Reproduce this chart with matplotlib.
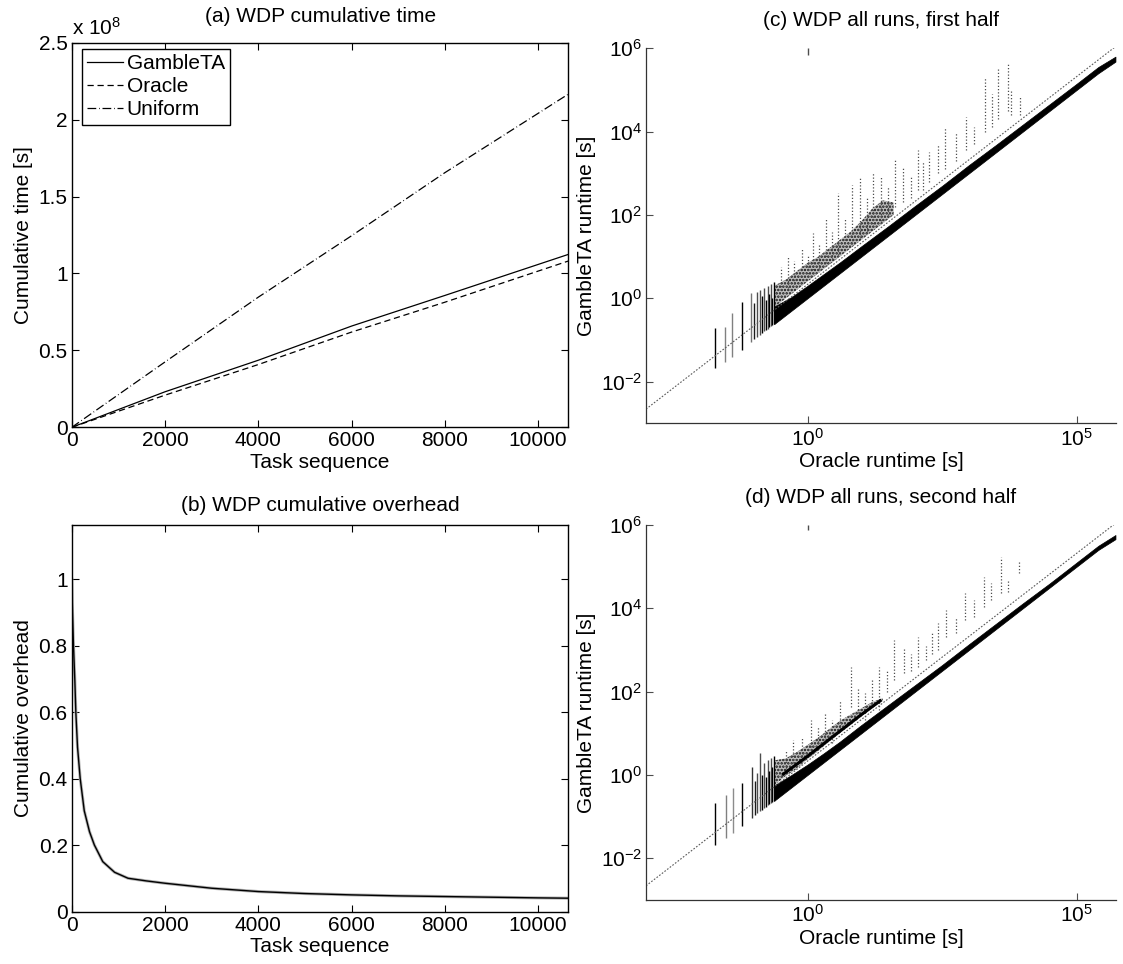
import numpy as np
import matplotlib
matplotlib.use('Agg')
import matplotlib.pyplot as plt
from matplotlib.ticker import FixedLocator, FuncFormatter, NullLocator

plt.rcParams['font.family'] = ['Liberation Sans', 'DejaVu Sans']
plt.rcParams['mathtext.fontset'] = 'custom'
plt.rcParams['mathtext.rm'] = 'Liberation Sans'
plt.rcParams['mathtext.it'] = 'Liberation Sans:italic'
plt.rcParams['mathtext.default'] = 'regular'
plt.rcParams['hatch.linewidth'] = 1.2
FS = 15

# ---------------- (a) cumulative time ----------------
task_a = [0, 2000, 4000, 6000, 8000, 10650]
gamble_a = [0, 0.231e8, 0.436e8, 0.658e8, 0.857e8, 1.124e8]
oracle_a = [0, 0.209e8, 0.408e8, 0.619e8, 0.813e8, 1.081e8]
uniform_a = [0, 0.425e8, 0.846e8, 1.245e8, 1.655e8, 2.166e8]

# ---------------- (b) cumulative overhead ----------------
task_b = [0, 15, 36, 65, 87, 123, 180, 267, 380, 484, 664, 917, 1206, 1600,
          2000, 3000, 4000, 5000, 6000, 7000, 8000, 9000, 10000, 10650]
overhead_b = [1.0, 0.9, 0.8, 0.695, 0.598, 0.494, 0.40, 0.303, 0.24, 0.20,
              0.15, 0.118, 0.10, 0.092, 0.085, 0.07, 0.06, 0.054, 0.05,
              0.047, 0.045, 0.043, 0.041, 0.040]

# ---------------- (c) first half (log10 values) ----------------
c_band_logx = [-0.62, -0.3, 0.0, 0.3, 0.6, 1.0, 1.5, 2.0, 2.5, 3.0, 3.5, 4.0, 4.5, 5.0, 5.4, 5.72]
c_band_loglo = [-0.62, -0.3, 0.0, 0.3, 0.6, 1.0, 1.5, 2.0, 2.5, 3.0, 3.5, 4.0, 4.5, 5.0, 5.4, 5.68]
c_band_loghi = [-0.2, 0.03, 0.3, 0.58, 0.86, 1.25, 1.73, 2.22, 2.7, 3.2, 3.68, 4.17, 4.66, 5.15, 5.55, 5.8]
c_clu_logx = [-0.62, -0.4, -0.2, 0.0, 0.2, 0.4, 0.6, 0.8, 1.0, 1.2, 1.4, 1.6]
c_clu_loglo = [-0.22, 0.0, 0.2, 0.4, 0.6, 0.8, 1.0, 1.2, 1.4, 1.6, 1.8, 2.0]
c_clu_loghi = [0.3, 0.45, 0.65, 0.85, 1.0, 1.2, 1.4, 1.6, 1.85, 2.15, 2.35, 2.3]
c_col_logx = [-1.71, -1.53, -1.40, -1.22, -1.05, -0.985, -0.93, -0.88, -0.84, -0.80,
              -0.77, -0.74, -0.71, -0.68, -0.66, -0.63, 0.0]
c_col_loglo = [-1.68, -1.52, -1.40, -1.24, -1.04, -0.97, -0.92, -0.87, -0.83, -0.79,
               -0.76, -0.73, -0.70, -0.67, -0.65, -0.62, 5.85]
c_col_loghi = [-0.72, -0.68, -0.35, -0.08, 0.12, -0.12, 0.15, 0.20, 0.05, 0.25,
               -0.05, 0.30, 0.10, 0.35, 0.00, 0.40, 6.0]
c_col_shade = [0.0, 0.5, 0.5, 0.0, 0.45, 0.1, 0.3, 0.3, 0.0, 0.3,
               0.0, 0.3, 0.0, 0.3, 0.0, 0.0, 0.3]
c_out_logx = [-0.50, -0.36, -0.25, -0.11, 0.00, 0.10, 0.22, 0.35, 0.46, 0.57, 0.70,
              0.82, 0.97, 1.10, 1.22, 1.37, 1.50, 1.62, 1.78, 1.92, 2.06, 2.15,
              2.25, 2.43, 2.55, 2.75, 2.95, 3.10, 3.29, 3.42, 3.54, 3.72, 3.78, 3.95]
c_out_loglo = [0.2, 0.25, 0.35, 0.45, 0.5, 0.6, 0.7, 0.85, 0.95, 1.05, 1.15,
               1.3, 1.45, 1.6, 1.7, 1.85, 2.0, 2.2, 2.3, 2.4, 2.6, 2.6,
               2.8, 3.0, 3.1, 3.3, 3.56, 3.7, 4.0, 4.1, 4.3, 4.5, 4.4, 4.4]
c_out_loghi = [0.75, 1.0, 0.9, 1.2, 1.05, 1.56, 1.3, 1.92, 1.6, 2.52, 1.9,
               2.72, 2.88, 2.4, 3.0, 2.9, 2.7, 3.32, 3.12, 2.9, 3.56, 3.3,
               3.5, 3.68, 4.1, 4.0, 4.36, 4.1, 5.32, 4.9, 5.56, 5.64, 5.0, 4.84]

# ---------------- (d) second half ----------------
d_band_logx = [-0.62, -0.3, 0.0, 0.3, 0.6, 1.0, 1.5, 2.0, 2.5, 3.0, 3.5, 4.0, 4.5, 5.0, 5.4, 5.72]
d_band_loglo = [-0.62, -0.3, 0.0, 0.3, 0.6, 1.0, 1.5, 2.0, 2.5, 3.0, 3.5, 4.0, 4.5, 5.0, 5.4, 5.66]
d_band_loghi = [-0.25, 0.0, 0.25, 0.52, 0.8, 1.2, 1.68, 2.16, 2.64, 3.14, 3.63, 4.12, 4.6, 5.1, 5.5, 5.76]
d_clu_logx = [-0.62, -0.4, -0.2, 0.0, 0.2, 0.4, 0.6, 0.8, 1.0, 1.2, 1.4]
d_clu_loglo = [-0.25, -0.02, 0.15, 0.38, 0.58, 0.8, 1.0, 1.2, 1.4, 1.6, 1.8]
d_clu_loghi = [0.35, 0.4, 0.55, 0.72, 0.9, 1.1, 1.3, 1.45, 1.6, 1.75, 1.85]
d_ridge_logx = [-0.45, 0.0, 0.5, 1.0, 1.35]
d_ridge_logy = [0.02, 0.45, 0.95, 1.45, 1.78]
d_col_logx = [-1.71, -1.52, -1.39, -1.21, -1.04, -0.98, -0.93, -0.88, -0.84, -0.80,
              -0.77, -0.74, -0.71, -0.68, -0.66, -0.63, 0.0]
d_col_loglo = [-1.68, -1.52, -1.40, -1.22, -1.04, -0.97, -0.92, -0.87, -0.83, -0.79,
               -0.76, -0.73, -0.70, -0.67, -0.65, -0.62, 5.88]
d_col_loghi = [-0.68, -0.48, -0.32, -0.20, 0.20, -0.15, 0.05, 0.52, 0.0, 0.30,
               -0.05, 0.35, 0.10, 0.40, 0.20, 0.45, 6.0]
d_col_shade = [0.0, 0.5, 0.55, 0.0, 0.2, 0.1, 0.3, 0.3, 0.0, 0.3,
               0.0, 0.3, 0.0, 0.3, 0.0, 0.0, 0.3]
d_out_logx = [-0.40, -0.27, -0.10, 0.06, 0.20, 0.33, 0.46, 0.60, 0.80, 0.93, 1.07,
              1.20, 1.33, 1.47, 1.60, 1.80, 1.93, 2.06, 2.20, 2.32, 2.43, 2.57,
              2.75, 2.93, 3.10, 3.27, 3.40, 3.60, 3.73, 3.93]
d_out_loglo = [0.15, 0.28, 0.45, 0.68, 0.80, 0.9, 0.76, 1.1, 1.64, 1.5, 1.32,
               1.7, 1.56, 2.0, 2.28, 2.44, 2.5, 2.60, 2.75, 2.9, 3.0, 3.32,
               3.4, 3.72, 3.8, 4.04, 4.20, 4.36, 4.40, 4.84]
d_out_loghi = [0.6, 0.84, 0.9, 1.32, 1.15, 1.5, 1.32, 1.8, 2.60, 2.1, 1.96,
               2.3, 2.60, 2.5, 3.24, 3.08, 2.9, 3.32, 3.10, 3.4, 3.64, 3.96,
               3.8, 4.36, 4.2, 4.76, 4.60, 5.24, 4.70, 5.16]

ref_logx = [-3.0, 5.73]
ref_logy = [-2.66, 6.05]

W, H = 1123, 964
fig = plt.figure(figsize=(W / 100, H / 100), dpi=100)


def px_axes(l, t, r, b):
    return fig.add_axes([l / W, 1 - b / H, (r - l) / W, (b - t) / H])


def box_style(ax):
    for s in ax.spines.values():
        s.set_linewidth(1.0)
        s.set_color('k')
    ax.tick_params(direction='in', length=5, width=0.8, top=True, right=True,
                   labelsize=FS, pad=3)


# (a)
ax_a = px_axes(71.8, 42.7, 568.4, 427.3)
ax_a.plot(task_a, gamble_a, color='k', lw=0.9, ls='-', label='GambleTA')
ax_a.plot(task_a, oracle_a, color='k', lw=0.9, ls=(0, (5, 3)), label='Oracle')
ax_a.plot(task_a, uniform_a, color='k', lw=0.9, ls=(0, (7, 2.2, 0.6, 2.2)), label='Uniform')
ax_a.set_xlim(0, 10650)
ax_a.set_ylim(0, 2.5e8)
ax_a.xaxis.set_major_locator(FixedLocator([0, 2000, 4000, 6000, 8000, 10000]))
ax_a.yaxis.set_major_locator(FixedLocator([0, 0.5e8, 1e8, 1.5e8, 2e8, 2.5e8]))
ax_a.yaxis.set_major_formatter(FuncFormatter(lambda v, p: '%g' % (v / 1e8)))
box_style(ax_a)
ax_a.set_title('(a) WDP cumulative time', fontsize=FS, pad=15)
ax_a.set_xlabel('Task sequence', fontsize=FS, labelpad=2)
ax_a.set_ylabel('Cumulative time [s]', fontsize=FS, labelpad=4)
ax_a.text(0.0, 1.01, r'x 10$^{8}$', transform=ax_a.transAxes, ha='left',
          va='bottom', fontsize=FS)
leg = ax_a.legend(loc='upper left', bbox_to_anchor=(0.02, 0.984), borderaxespad=0,
                  fontsize=FS, handlelength=1.75, handletextpad=0.15,
                  labelspacing=0.2, borderpad=0.25, fancybox=False, framealpha=1)
leg.get_frame().set_edgecolor('k')
leg.get_frame().set_linewidth(1.0)

# (b)
ax_b = px_axes(71.8, 525, 568.4, 911.5)
ax_b.plot(task_b, overhead_b, color='0.7', lw=2.2)
ax_b.plot(task_b, overhead_b, color='k', lw=1.0)
ax_b.set_xlim(0, 10650)
ax_b.set_ylim(0, 1.1627)
ax_b.xaxis.set_major_locator(FixedLocator([0, 2000, 4000, 6000, 8000, 10000]))
ax_b.yaxis.set_major_locator(FixedLocator([0, 0.2, 0.4, 0.6, 0.8, 1.0]))
ax_b.yaxis.set_major_formatter(FuncFormatter(lambda v, p: '%g' % v))
box_style(ax_b)
ax_b.set_title('(b) WDP cumulative overhead', fontsize=FS, pad=10)
ax_b.set_xlabel('Task sequence', fontsize=FS, labelpad=2)
ax_b.set_ylabel('Cumulative overhead', fontsize=FS, labelpad=4)


def p10(a):
    return 10.0 ** np.asarray(a, dtype=float)


def scatter_panel(ax, band, clu, cols, outs, title, ridge=None):
    bx, blo, bhi = band
    cx, clo, chi = clu
    kx, klo, khi, ksh = cols
    ox, olo, ohi = outs
    ax.set_xscale('log')
    ax.set_yscale('log')
    ax.vlines(p10(ox), p10(olo), p10(ohi), colors='0.3', lw=0.9,
              linestyles=(0, (1, 1.6)))
    ax.fill_between(p10(cx), p10(clo), p10(chi), facecolor=(0, 0, 0, 0.25),
                    edgecolor=(0, 0, 0, 0.9), hatch='.....', lw=0)
    if ridge is not None:
        ax.plot(p10(ridge[0]), p10(ridge[1]), color='k', lw=2.2)
    ax.fill_between(p10(bx), p10(blo), p10(bhi), color='k', lw=0.5)
    ax.vlines(p10(kx), p10(klo), p10(khi), colors=[str(s) for s in ksh], lw=1.0)
    ax.plot(p10(ref_logx), p10(ref_logy), color='0.35', lw=0.8, ls=(0, (1.5, 1.5)))
    ax.set_xlim(1e-3, 10 ** 5.73)
    ax.set_ylim(1e-3, 1e6)
    ax.xaxis.set_major_locator(FixedLocator([1e0, 1e5]))
    ax.yaxis.set_major_locator(FixedLocator([1e-2, 1e0, 1e2, 1e4, 1e6]))
    ax.xaxis.set_minor_locator(NullLocator())
    ax.yaxis.set_minor_locator(NullLocator())
    fmt = FuncFormatter(lambda v, p: r'10$^{%d}$' % int(round(np.log10(v))))
    ax.xaxis.set_major_formatter(fmt)
    ax.yaxis.set_major_formatter(fmt)
    ax.spines['top'].set_visible(False)
    ax.spines['right'].set_visible(False)
    for s in ('left', 'bottom'):
        ax.spines[s].set_linewidth(0.9)
        ax.spines[s].set_color('0.2')
    ax.tick_params(direction='in', length=5, width=0.8, color='0.3',
                   labelsize=FS, pad=3)
    ax.set_title(title, fontsize=FS, pad=16)
    ax.set_xlabel('Oracle runtime [s]', fontsize=FS, labelpad=2)
    ax.set_ylabel('GambleTA runtime [s]', fontsize=FS, labelpad=3)


ax_c = px_axes(646, 48.3, 1116, 423.3)
scatter_panel(ax_c, (c_band_logx, c_band_loglo, c_band_loghi),
              (c_clu_logx, c_clu_loglo, c_clu_loghi),
              (c_col_logx, c_col_loglo, c_col_loghi, c_col_shade),
              (c_out_logx, c_out_loglo, c_out_loghi),
              '(c) WDP all runs, first half')

ax_d = px_axes(646, 525, 1116, 900)
scatter_panel(ax_d, (d_band_logx, d_band_loglo, d_band_loghi),
              (d_clu_logx, d_clu_loglo, d_clu_loghi),
              (d_col_logx, d_col_loglo, d_col_loghi, d_col_shade),
              (d_out_logx, d_out_loglo, d_out_loghi),
              '(d) WDP all runs, second half',
              ridge=(d_ridge_logx, d_ridge_logy))

fig.savefig('out.png', dpi=100)
